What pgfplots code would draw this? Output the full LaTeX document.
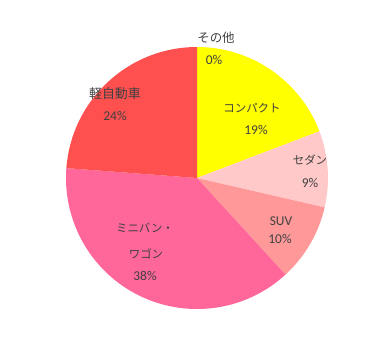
\documentclass[border=0pt]{standalone}
\usepackage{pgfplots}
\usepackage{pgfplotstable}
\pgfplotsset{compat=1.18}
\usepackage{fontspec}
\setmainfont{Carlito}
\newfontfamily\jp{Noto Sans CJK JP}
\definecolor{cCompact}{HTML}{FFFF00}
\definecolor{cSedan}{HTML}{FFC9C9}
\definecolor{cSUV}{HTML}{FF9999}
\definecolor{cMini}{HTML}{FF6699}
\definecolor{cKei}{HTML}{FF5050}
\definecolor{cOther}{HTML}{A5A5A5}
\definecolor{txt}{HTML}{404040}

\pgfplotstableread[col sep=comma]{
value,color
19.2,cCompact
9.4,cSedan
9.6,cSUV
38.0,cMini
23.8,cKei
0,cOther
}\piedata

\pgfplotstablegetrowsof{\piedata}
\pgfmathtruncatemacro\nrows{\pgfplotsretval-1}
\def\wedges{}
\def\cum{0}
\pgfplotsforeachungrouped \i in {0,...,\nrows}{%
  \pgfplotstablegetelem{\i}{value}\of\piedata \let\v\pgfplotsretval
  \pgfplotstablegetelem{\i}{color}\of\piedata \let\c\pgfplotsretval
  \pgfmathsetmacro\sa{90-3.6*\cum}%
  \pgfmathsetmacro\cum{\cum+\v}%
  \pgfmathsetmacro\ea{90-3.6*\cum}%
  \ifdim\v pt>0pt
  \edef\wedges{\unexpanded\expandafter{\wedges}\noexpand\fill[\c] (axis cs:0,0) -- ++(\sa:131bp) arc[start angle=\sa, end angle=\ea, radius=131bp] -- cycle;}%
  \fi
}

\begin{document}
\begin{tikzpicture}
\begin{axis}[
  x=1bp, y=1bp,
  xmin=-197, xmax=181, ymin=-173, ymax=178,
  hide axis, clip=false,
]
\path (axis cs:-197,-173) rectangle (axis cs:181,178);
\wedges
\begin{scope}[every node/.style={text=txt, inner sep=0pt}]
\node[font=\jp\fontsize{12.5}{13}\selectfont] at (axis cs:19,140) {その他};
\node[font=\fontsize{13.5}{14}\selectfont] at (axis cs:17,118) {0\%};
\node[font=\jp\fontsize{11.5}{13}\selectfont] at (axis cs:55,70) {コンパクト};
\node[font=\fontsize{13.5}{14}\selectfont] at (axis cs:59,48) {19\%};
\node[font=\jp\fontsize{11.5}{13}\selectfont] at (axis cs:113,18) {セダン};
\node[font=\fontsize{13.5}{14}\selectfont] at (axis cs:113,-5) {9\%};
\node[font=\fontsize{13.5}{14}\selectfont] at (axis cs:84,-43) {SUV};
\node[font=\fontsize{13.5}{14}\selectfont] at (axis cs:83,-61) {10\%};
\node[font=\jp\fontsize{11.5}{13}\selectfont] at (axis cs:-52,-50) {ミニバン・};
\node[font=\jp\fontsize{11.5}{13}\selectfont] at (axis cs:-51,-76) {ワゴン};
\node[font=\fontsize{13.5}{14}\selectfont] at (axis cs:-52,-98) {38\%};
\node[font=\jp\fontsize{13}{14}\selectfont] at (axis cs:-82,84) {軽自動車};
\node[font=\fontsize{13.5}{14}\selectfont] at (axis cs:-82,62) {24\%};
\end{scope}
\end{axis}
\end{tikzpicture}
\end{document}
